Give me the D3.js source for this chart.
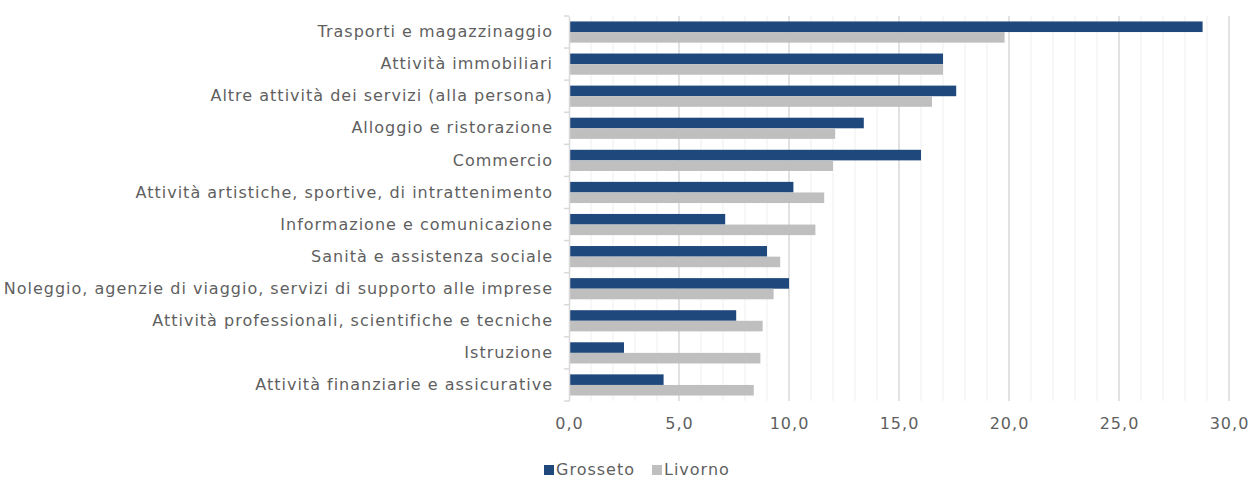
<!DOCTYPE html>
<html>
<head>
<meta charset="utf-8">
<script src="https://cdn.jsdelivr.net/npm/d3@7"></script>
<style>
  body { margin: 0; background: #fff; }
  text { font-family: "DejaVu Sans", sans-serif; fill: #5f5f5f; letter-spacing: 1px; }
</style>
</head>
<body>
<script>
// categories top to bottom
const categories = [
    "Trasporti e magazzinaggio",
    "Attività immobiliari",
    "Altre attività dei servizi (alla persona)",
    "Alloggio e ristorazione",
    "Commercio",
    "Attività artistiche, sportive, di intrattenimento",
    "Informazione e comunicazione",
    "Sanità e assistenza sociale ",
    "Noleggio, agenzie di viaggio, servizi di supporto alle imprese",
    "Attività professionali, scientifiche e tecniche",
    "Istruzione",
    "Attività finanziarie e assicurative"
];
const grosseto = [28.8, 17.0, 17.6, 13.4, 16.0, 10.2, 7.1, 9.0, 10.0, 7.6, 2.5, 4.3];
const livorno  = [19.8, 17.0, 16.5, 12.1, 12.0, 11.6, 11.2, 9.6, 9.3, 8.8, 8.7, 8.4];
const seriesNames = ["Grosseto", "Livorno"];
const seriesColors = ["#1f497d", "#bfbfbf"];
const xTicks = [0, 5, 10, 15, 20, 25, 30];

const W = 1248, H = 479;
const margin = { top: 16, right: 19, bottom: 78, left: 569 };
const width = W - margin.left - margin.right;
const height = H - margin.top - margin.bottom;

const svg = d3.select('body').append('svg')
    .attr('width', W)
    .attr('height', H);

const g = svg.append('g')
    .attr('transform', `translate(${margin.left}, ${margin.top})`);

const x = d3.scaleLinear().domain([0, 30]).range([0, width]);
const y = d3.scaleBand().domain(categories).range([0, height]).paddingInner(0.34).paddingOuter(0.17);
const ySub = d3.scaleBand().domain(seriesNames).range([0, y.bandwidth()]);

// gridlines: minor every 1, major every 5
g.append('g')
    .selectAll('line')
    .data(d3.range(1, 31))
    .enter()
    .append('line')
    .attr('x1', d => x(d)).attr('x2', d => x(d))
    .attr('y1', 0).attr('y2', height)
    .attr('stroke', d => d % 5 === 0 ? '#d9d9d9' : '#efefef')
    .attr('stroke-width', d => d % 5 === 0 ? 1.5 : 1);

// bars
const rows = categories.map((c, i) => ({ cat: c, vals: [grosseto[i], livorno[i]] }));
const rowG = g.selectAll('.row')
    .data(rows)
    .enter()
    .append('g')
    .attr('class', 'row')
    .attr('transform', d => `translate(0, ${y(d.cat)})`);

rowG.selectAll('rect')
    .data(d => d.vals.map((v, k) => ({ name: seriesNames[k], v: v, k: k })))
    .enter()
    .append('rect')
    .attr('x', 0)
    .attr('y', d => ySub(d.name))
    .attr('width', d => x(d.v))
    .attr('height', ySub.bandwidth())
    .attr('fill', d => seriesColors[d.k]);

// left axis
const yAxis = g.append('g')
    .call(d3.axisLeft(y).tickSize(0).tickPadding(16));
yAxis.select('.domain').attr('stroke', '#d9d9d9').attr('stroke-width', 1.5);
yAxis.selectAll('text')
    .style('font-size', '16px')
    .style('font-family', '"DejaVu Sans", sans-serif')
    .style('fill', '#5f5f5f');

// category separator ticks on the left axis
const step = y.step();
g.append('g')
    .selectAll('line')
    .data(d3.range(0, categories.length + 1))
    .enter()
    .append('line')
    .attr('x1', -5).attr('x2', 0)
    .attr('y1', i => i * step).attr('y2', i => i * step)
    .attr('stroke', '#d9d9d9')
    .attr('stroke-width', 1.5);

// bottom axis labels
const xAxis = g.append('g')
    .attr('transform', `translate(0, ${height})`)
    .call(d3.axisBottom(x).tickValues(xTicks).tickSize(0).tickPadding(17)
        .tickFormat(d => d3.format('.1f')(d).replace('.', ',')));
xAxis.select('.domain').remove();
xAxis.selectAll('text')
    .style('font-size', '16px')
    .style('font-family', '"DejaVu Sans", sans-serif')
    .style('fill', '#5f5f5f');

// legend
const legend = svg.append('g')
    .attr('transform', 'translate(544, 475)');
const legendX = [0, 108];
seriesNames.forEach((name, k) => {
    const lg = legend.append('g').attr('transform', `translate(${legendX[k]}, 0)`);
    lg.append('rect')
        .attr('x', 0).attr('y', -10)
        .attr('width', 10).attr('height', 10)
        .attr('fill', seriesColors[k]);
    lg.append('text')
        .attr('x', 12).attr('y', 0)
        .style('font-size', '16px')
        .text(name);
});
</script>
</body>
</html>
